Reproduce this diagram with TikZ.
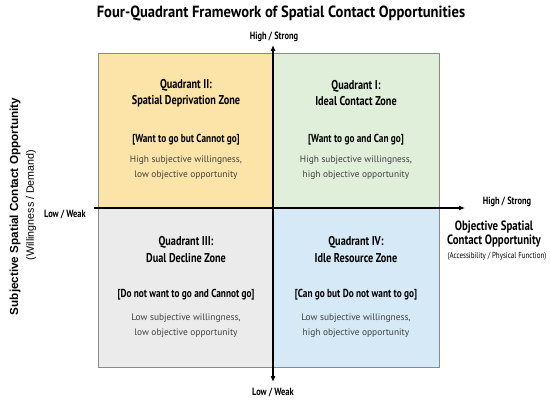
\documentclass[tikz,border=0pt]{standalone}
\usepackage{fontspec}
\setmainfont{PT Sans}
\newfontfamily\cf[FakeStretch=0.8]{PT Sans}
\newfontfamily\tf[FakeStretch=0.9]{PT Sans}
\newfontfamily\af{Liberation Sans}
\usetikzlibrary{arrows.meta}
\definecolor{qyel}{HTML}{FCE4A8}
\definecolor{qgrn}{HTML}{DFEFD9}
\definecolor{qgry}{HTML}{EBEBEB}
\definecolor{qblu}{HTML}{D5E9F6}
\definecolor{bord}{HTML}{8A8A8A}
\definecolor{txtg}{HTML}{404040}
\begin{document}
\begin{tikzpicture}[x=1pt,y=-1pt,
  quad/.style={draw=bord,line width=0.8pt,inner sep=0pt,outer sep=0pt,anchor=north west},
  qtitle/.style={font=\cf\bfseries\fontsize{12.8}{16.5}\selectfont,align=center,text=black},
  qtag/.style={font=\cf\bfseries\fontsize{11.6}{13}\selectfont,text=black},
  qdesc/.style={font=\fontsize{9.4}{15.5}\selectfont,align=center,text=txtg},
  axlab/.style={font=\cf\bfseries\fontsize{10.5}{11}\selectfont},
  axisline/.style={line width=1.1pt}
]
\useasboundingbox[fill=white] (0,0) rectangle (550,412);
% title
\node[font=\tf\bfseries\fontsize{16.2}{19}\selectfont] (title) at (281,13) {Four-Quadrant Framework of Spatial Contact Opportunities};
% quadrants
\node[quad,fill=qyel,minimum width=175pt,minimum height=155pt] (q2) at (98,53) {};
\node[quad,fill=qgrn,minimum width=166pt,minimum height=155pt] (q1) at (273,53) {};
\node[quad,fill=qgry,minimum width=175pt,minimum height=159pt] (q3) at (98,208) {};
\node[quad,fill=qblu,minimum width=166pt,minimum height=159pt] (q4) at (273,208) {};
% Q2
\node[qtitle] (q2t) at (186,93) {Quadrant II:\\Spatial Deprivation Zone};
\node[qtag] (q2g) at (186,140) {[Want to go but Cannot go]};
\node[qdesc] (q2d) at (186,167.5) {High subjective willingness,\\low objective opportunity};
% Q1
\node[qtitle] (q1t) at (356,93) {Quadrant I:\\Ideal Contact Zone};
\node[qtag] (q1g) at (356,140) {[Want to go and Can go]};
\node[qdesc] (q1d) at (356,167.5) {High subjective willingness,\\high objective opportunity};
% Q3
\node[qtitle] (q3t) at (186,249.5) {Quadrant III:\\Dual Decline Zone};
\node[qtag] (q3g) at (186,295) {[Do not want to go and Cannot go]};
\node[qdesc] (q3d) at (186,325.5) {Low subjective willingness,\\low objective opportunity};
% Q4
\node[qtitle] (q4t) at (356,249.5) {Quadrant IV:\\Idle Resource Zone};
\node[qtag] (q4g) at (356,295) {[Can go but Do not want to go]};
\node[qdesc] (q4d) at (356,325.5) {Low subjective willingness,\\high objective opportunity};
% axes
\coordinate (vb) at (273,382);
\coordinate (vt) at (273,45);
\coordinate (hl) at (94,208);
\coordinate (hr) at (465,208);
\draw[axisline,{Latex[length=6pt,width=5pt]}-{Latex[length=6pt,width=5pt]}] (vb) -- (vt);
\draw[axisline,-{Latex[length=6pt,width=5pt]}] (hl) -- (hr);
% axis labels
\node[axlab] (ytop) at (274,37) {High / Strong};
\node[axlab] (ybot) at (273,392) {Low / Weak};
\node[axlab] (xleft) at (65,214) {Low / Weak};
\node[axlab] (xright) at (507,202) {High / Strong};
\node[font=\cf\bfseries\fontsize{13.5}{14}\selectfont,align=center] (xlab) at (494,234) {Objective Spatial\\Contact Opportunity};
\node[font=\cf\fontsize{8.7}{9}\selectfont] (xsub) at (497,256) {(Accessibility / Physical Function)};
\node[rotate=90,font=\af\bfseries\fontsize{11.7}{13}\selectfont] (ylab) at (15,206.5) {Subjective Spatial Contact Opportunity};
\node[rotate=90,font=\af\fontsize{10.7}{12}\selectfont] (ysub) at (31,205) {(Willingness / Demand)};
\end{tikzpicture}
\end{document}
